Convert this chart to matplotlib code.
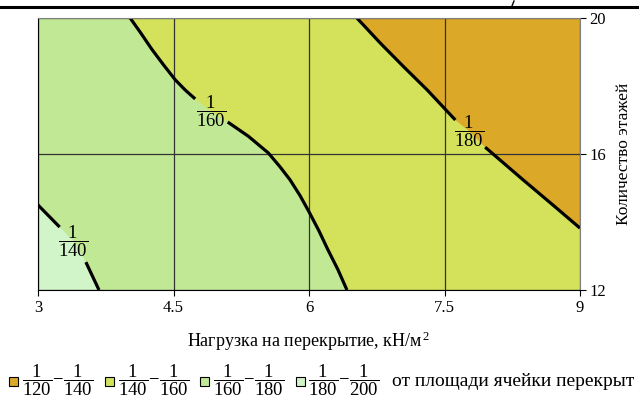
import matplotlib.pyplot as plt
from matplotlib.patches import Rectangle
from matplotlib.lines import Line2D

plt.rcParams['font.family'] = ['Liberation Serif', 'DejaVu Serif']
plt.rcParams['mathtext.fontset'] = 'custom'
plt.rcParams['mathtext.rm'] = 'Liberation Serif'
plt.rcParams['mathtext.it'] = 'Liberation Serif:italic'

# --- data ---
x_ticks = [3, 4.5, 6, 7.5, 9]
y_ticks = [12, 16, 20]

# isolines; the label sits at point index *_lab
line140_x = [3.0, 3.24, 3.39, 3.53, 3.675]
line140_y = [14.5, 13.85, 13.45, 12.82, 12.0]
line140_lab = 2
line160_x = [4.02, 4.14, 4.26, 4.39, 4.52, 4.63, 4.74, 4.92, 5.10, 5.33, 5.55,
             5.68, 5.79, 5.90, 6.0, 6.11, 6.21, 6.32, 6.42]
line160_y = [20.0, 19.55, 19.08, 18.62, 18.18, 17.88, 17.62, 17.25, 16.94, 16.52, 16.03,
             15.62, 15.24, 14.78, 14.3, 13.74, 13.18, 12.6, 12.0]
line160_lab = 7
line180_x = [6.53, 6.79, 7.05, 7.31, 7.62, 7.77, 7.95, 8.37, 8.7, 9.0]
line180_y = [20.0, 19.26, 18.56, 17.88, 17.0, 16.68, 16.2, 15.24, 14.5, 13.82]
line180_lab = 5

legend_ranges = [(120, 140), (140, 160), (160, 180), (180, 200)]
legend_colors = ['#DBA927', '#D3E15B', '#C1E995', '#D1F4C9']
legend_tail = 'от площади ячейки перекрыт'

fig = plt.figure(figsize=(6.39, 3.99), dpi=100)
ax = fig.add_axes([38 / 639, 109 / 399, 542 / 639, 272 / 399])

xmin, xmax = x_ticks[0], x_ticks[-1]
ymin, ymax = y_ticks[0], y_ticks[-1]

# zones
ax.fill([xmin, xmax, xmax, xmin], [ymin, ymin, ymax, ymax], color=legend_colors[1], lw=0)
ax.fill([xmin] + line160_x + [xmin], [ymax] + line160_y + [ymin], color=legend_colors[2], lw=0)
ax.fill(line140_x + [xmin], line140_y + [ymin], color=legend_colors[3], lw=0)
ax.fill(line180_x + [xmax], line180_y + [ymax], color=legend_colors[0], lw=0)

# isolines with a gap for the label
for xs, ys, k, den in [(line140_x, line140_y, line140_lab, 140),
                       (line160_x, line160_y, line160_lab, 160),
                       (line180_x, line180_y, line180_lab, 180)]:
    ax.plot(xs[:k], ys[:k], color='black', lw=2.3, solid_capstyle='butt')
    ax.plot(xs[k + 1:], ys[k + 1:], color='black', lw=2.3, solid_capstyle='butt')
    ax.text(xs[k], ys[k], r'$\dfrac{1}{%d}$' % den, ha='center', va='center',
            fontsize=13.5, zorder=5)

ax.set_xlim(xmin, xmax)
ax.set_ylim(ymin, ymax)
ax.set_xticks(x_ticks)
ax.set_xticklabels(['3', '4.5', '6', '7.5', '9'])
ax.set_yticks(y_ticks)
ax.yaxis.tick_right()
ax.yaxis.set_label_position('right')
ax.tick_params(direction='out', length=4, width=0.8, labelsize=12, pad=3)
ax.grid(True, color='#333333', lw=0.9)

for side in ['top', 'right']:
    ax.spines[side].set_color('#808080')
for side in ['bottom', 'left']:
    ax.spines[side].set_color('black')

ax.set_xlabel(r'Нагрузка на перекрытие, кН/м$^{\,2}$', fontsize=13, labelpad=10)
ax.set_ylabel('Количество этажей', fontsize=12.5, labelpad=7)

# top rule of the page, with a stray stroke of the text above it
fig.add_artist(Line2D([0, 1], [0.982, 0.982], color='black', lw=2.2))
fig.add_artist(Line2D([514 / 639, 512 / 639], [398 / 399, 393 / 399], color='black', lw=1))

# legend row
for i, (a, b) in enumerate(legend_ranges):
    left = 9 + i * 95.5
    fig.add_artist(Rectangle((left / 639, 13 / 399), 9 / 639, 9 / 399,
                             facecolor=legend_colors[i], edgecolor='black', lw=0.8))
    fig.text((left + 13) / 639, 18.5 / 399, r'$\dfrac{1}{%d}{-}\dfrac{1}{%d}$' % (a, b),
             ha='left', va='center', fontsize=13.5)
fig.text(392 / 639, 17 / 399, legend_tail, ha='left', va='center', fontsize=14)

fig.savefig('out.png', dpi=100)
